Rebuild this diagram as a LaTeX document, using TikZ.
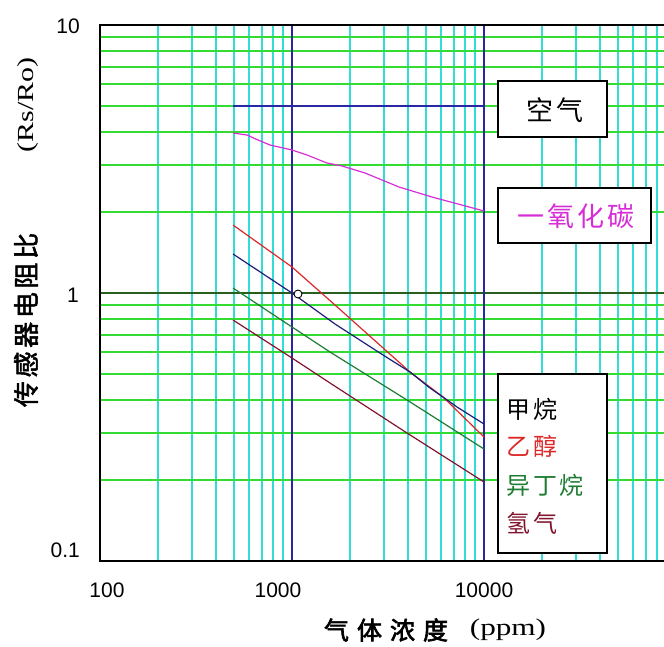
\documentclass[tikz,border=0pt]{standalone}
\usepackage{fontspec}
\setmainfont{Liberation Sans}
\newfontfamily\cjk[LetterSpace=12]{Noto Sans CJK SC}
\newfontfamily\cjkb[FakeBold=2,LetterSpace=14]{Noto Sans CJK SC}
\newfontfamily\cjkbw[FakeBold=2.5,LetterSpace=32]{Noto Sans CJK SC}
\newfontfamily\wideserif[FakeStretch=1.3]{Liberation Serif}
\definecolor{gridgreen}{RGB}{50,220,50}
\definecolor{gridcyan}{RGB}{50,220,215}
\definecolor{navyline}{RGB}{40,40,165}
\definecolor{unitline}{RGB}{40,95,30}
\definecolor{cocol}{RGB}{215,45,215}
\definecolor{ethcol}{RGB}{220,40,40}
\definecolor{methcol}{RGB}{30,30,120}
\definecolor{butcol}{RGB}{30,125,50}
\definecolor{hydcol}{RGB}{130,20,45}
\begin{document}
\begin{tikzpicture}[x=1pt,y=-1pt,
  hgrid/.style={gridgreen,line width=2pt},
  vgrid/.style={gridcyan,line width=2pt},
  bluev/.style={navyline,line width=1.8pt},
  frameline/.style={black,line width=1.8pt},
  curve/.style={line width=1.2pt,line join=round},
  legbox/.style={draw=black,line width=1.3pt,fill=white,inner sep=0pt},
  boxtext/.style={font=\cjk\fontsize{27}{27}\selectfont,inner sep=0pt},
  legtext/.style={font=\cjk\fontsize{24}{24}\selectfont,anchor=west,inner sep=0pt},
  numlab/.style={font=\fontsize{21}{21}\selectfont,inner sep=0pt}]
\useasboundingbox (0,0) rectangle (664,646);
% grid
\begin{scope}
\clip (100,25) rectangle (664,561);
\foreach \d in {0,1,2}{\foreach \m in {2,...,9}{
  \draw[vgrid] ({100+192*(\d+log10(\m))},25) -- ++(0,536);}}
\foreach \b in {293,561}{\foreach \m in {2,...,9}{
  \draw[hgrid] (100,{\b-268*log10(\m)}) -- (664,{\b-268*log10(\m)});}}
\end{scope}
\draw[unitline,line width=1.8pt] (100,293) -- (664,293);
\draw[bluev] (292,25) -- (292,561);
\draw[bluev] (484,25) -- (484,561);
\draw[frameline] (664,25) -- (100,25) -- (100,561) -- (664,561);
% curves
\draw[navyline,line width=1.6pt] (233,106) -- (484,106);
\draw[curve,cocol] (233,133) -- (247,135) -- (258,140) -- (270,145) -- (292,150) -- (307,155) -- (327,163) -- (342,166) -- (365,173) -- (399,187) -- (432,197) -- (484,211);
\draw[curve,ethcol] (233,225) -- (292,267) -- (335,305) -- (410,372) -- (443,397) -- (484,437);
\draw[curve,methcol] (233,254) -- (292,293) -- (335,324) -- (383,355) -- (410,372) -- (430,388) -- (450,402) -- (457,407) -- (484,424);
\draw[curve,butcol] (233,288) -- (292,327) -- (330,352) -- (407,400) -- (484,449);
\draw[curve,hydcol] (233,320) -- (292,358) -- (330,383) -- (407,433) -- (484,482);
\node[circle,draw=black,fill=white,line width=0.9pt,minimum size=8pt,inner sep=0pt] (mark) at (298,294) {};
% boxes
\node[legbox,minimum width=109pt,minimum height=56pt] (airbox) at (552.5,109) {};
\node[boxtext] (airtxt) at (555,110) {空气};
\node[legbox,minimum width=153pt,minimum height=55pt] (cobox) at (574.5,215.5) {};
\node[boxtext,text=cocol] (cotxt) at (576,216) {一氧化碳};
\node[legbox,minimum width=109pt,minimum height=179pt] (legend) at (552.5,463.5) {};
\node[legtext,text=black] (l1) at (506,409) {甲烷};
\node[legtext,text=ethcol] (l2) at (506,446) {乙醇};
\node[legtext,text=butcol] (l3) at (506,485) {异丁烷};
\node[legtext,text=hydcol] (l4) at (506,523) {氢气};
% axis labels
\node[numlab,anchor=east] (y10) at (80,26) {10};
\node[numlab,anchor=east] (y1) at (79,295) {1};
\node[numlab,anchor=east] (y01) at (80,550) {0.1};
\node[numlab] (x100) at (107,590) {100};
\node[numlab] (x1000) at (278,590) {1000};
\node[numlab] (x10000) at (484,590) {10000};
\node[rotate=90,font=\cjkb\fontsize{26}{26}\selectfont,inner sep=0pt] (ytitle) at (26,320) {传感器电阻比};
\node[rotate=90,font=\wideserif\fontsize{23}{23}\selectfont,inner sep=0pt] (yunit) at (28,105) {(Rs/Ro)};
\node[font=\cjkbw\fontsize{25}{25}\selectfont,inner sep=0pt] (xtitle) at (386,630) {气体浓度};
\node[font=\wideserif\fontsize{24}{24}\selectfont,inner sep=0pt] (xunit) at (508,630) {(ppm)};
\end{tikzpicture}
\end{document}
